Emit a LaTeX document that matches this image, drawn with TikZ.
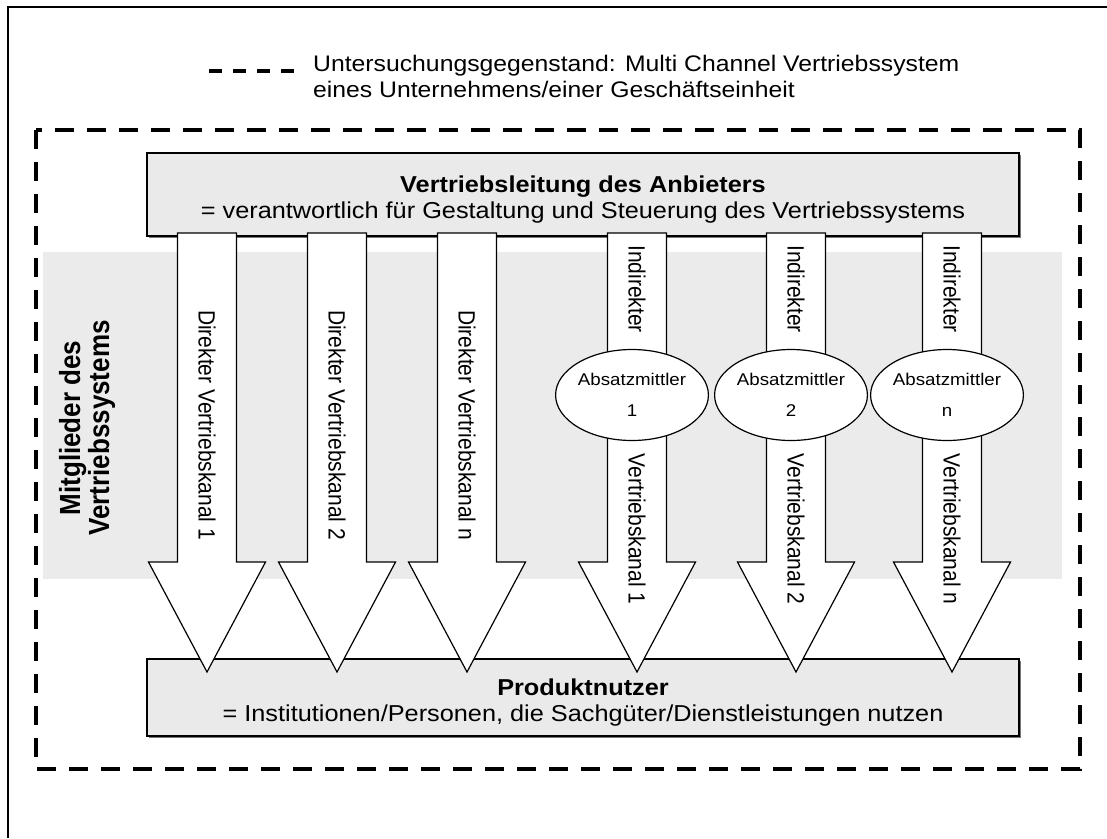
\documentclass[tikz,border=0pt]{standalone}
\usepackage{graphicx}
\usepackage{fontspec}
\setmainfont{Liberation Sans}[FakeStretch=1.1]
\newfontfamily\upfont{Liberation Sans}
\usetikzlibrary{shapes.geometric,shadows}

\definecolor{bandgray}{RGB}{235,235,235}
\definecolor{boxgray}{RGB}{234,234,234}
\definecolor{shadowgray}{RGB}{120,120,120}

\newcommand{\tallrot}[1]{\scalebox{1}[1.12]{#1}}

\tikzset{
  bigdash/.style={line width=4.7pt,dash pattern=on 19pt off 13pt},
  legdash/.style={line width=4pt,dash pattern=on 13pt off 11pt},
  infobox/.style={draw=black,line width=1.2pt,fill=boxgray,inner sep=0pt,
    minimum width=872pt,
    drop shadow={shadow xshift=2pt,shadow yshift=-2pt,fill=shadowgray,opacity=1}},
  boxtext/.style={align=center,inner sep=0pt,font=\fontsize{23}{26}\selectfont},
  chanarrow/.style={draw=black,line width=1.2pt,fill=white,line join=miter},
  chantext/.style={rotate=-90,inner sep=0pt,font=\upfont\fontsize{21}{25}\selectfont},
  mittler/.style={ellipse,draw=black,line width=1.2pt,fill=white,inner sep=0pt,
    minimum width=152pt,minimum height=91pt,align=center,
    font=\fontsize{17}{31}\selectfont},
}

\begin{document}
\begin{tikzpicture}[x=1pt,y=-1pt]
  \useasboundingbox (0,0) rectangle (1107,838);

  %--- frame (left and top only) ---
  \draw[line width=1.3pt] (8,838) -- (8,7) -- (1107,7);

  %--- legend ---
  \draw[legdash] (209,71) -- (295,71);
  \node[anchor=west,align=left,inner sep=0pt,font=\fontsize{22.5}{26}\selectfont]
    (legende) at (313,76)
    {Untersuchungsgegenstand: Multi Channel Vertriebssystem\\eines Unternehmens/einer Gesch\"aftseinheit};

  %--- system boundary ---
  \draw[bigdash] (36,130) rectangle (1080,769);

  %--- members band ---
  \node[fill=bandgray,inner sep=0pt,minimum width=1019pt,minimum height=327pt,
    anchor=north west] (band) at (43,252) {};
  \node[rotate=90,align=center,inner sep=0pt,
    font=\upfont\bfseries\fontsize{26}{29}\selectfont]
    (mitglieder) at (87,428) {\tallrot{Mitglieder des}\\\tallrot{Vertriebssystems}};

  %--- provider and users ---
  \node[infobox,minimum height=83pt] (anbieter) at (583,194.5) {};
  \node[boxtext,yshift=-5pt] (anbietertext) at (anbieter.center)
    {\textbf{Vertriebsleitung des Anbieters}\\= verantwortlich f\"ur Gestaltung und Steuerung des Vertriebssystems};
  \node[infobox,minimum height=77pt] (nutzer) at (583,697.5) {};
  \node[boxtext,yshift=-5pt] (nutzertext) at (nutzer.center)
    {\textbf{Produktnutzer}\\= Institutionen/Personen, die Sachg\"uter/Dienstleistungen nutzen};

  %--- direct channels ---
  \foreach \cx/\lab [count=\i] in {207/1,337/2,467/n} {
    \draw[chanarrow] (\cx-29.5,233) -- (\cx+29.5,233) -- (\cx+29.5,562)
      -- (\cx+58.5,562) -- (\cx,672) -- (\cx-58.5,562) -- (\cx-29.5,562) -- cycle;
    \node[chantext] (direkt\i) at (\cx,425) {\tallrot{Direkter Vertriebskanal \lab}};
  }

  %--- indirect channels via intermediaries ---
  \foreach \cx/\lab [count=\i] in {637/1,796/2,952/n} {
    \draw[chanarrow] (\cx-29.5,233) -- (\cx+29.5,233) -- (\cx+29.5,562)
      -- (\cx+58.5,562) -- (\cx,672) -- (\cx-58.5,562) -- (\cx-29.5,562) -- cycle;
    \node[chantext] (indirekt\i) at (\cx,289) {\tallrot{Indirekter}};
    \node[chantext] (kanal\i) at (\cx,529) {\tallrot{Vertriebskanal \lab}};
    \node[mittler] (mittler\i) at (\cx-5,395) {Absatzmittler\\\lab};
  }

\end{tikzpicture}
\end{document}
